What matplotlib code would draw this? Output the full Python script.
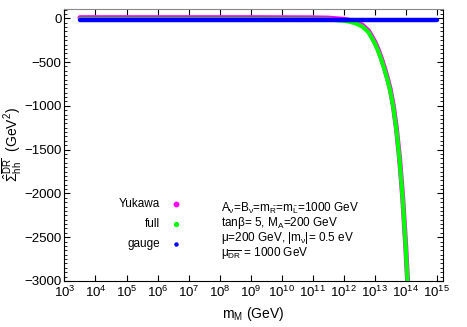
import matplotlib
matplotlib.use("Agg")
import matplotlib.pyplot as plt
import numpy as np
from matplotlib.ticker import MultipleLocator, FixedLocator

plt.rcParams['font.family'] = ['Liberation Sans', 'DejaVu Sans']
plt.rcParams['mathtext.fontset'] = 'custom'
plt.rcParams['mathtext.rm'] = 'Liberation Sans'
plt.rcParams['mathtext.it'] = 'Liberation Sans'
plt.rcParams['mathtext.bf'] = 'Liberation Sans:bold'
plt.rcParams['mathtext.default'] = 'regular'

# data: log10(m_M / GeV) and self-energy (GeV^2)
log_mM = [3.5, 5.0, 7.0, 9.0, 10.0, 11.0, 11.5, 12.0, 12.2, 12.4, 12.6, 12.8,
          13.0, 13.1, 13.2, 13.3, 13.4, 13.5, 13.6, 13.7, 13.8, 13.9, 14.0, 14.1]
full = [-9, -9, -9, -9, -10, -11, -14, -28, -40, -60, -95, -160,
        -285, -365, -460, -570, -690, -830, -1020, -1280, -1620, -2060, -2630, -3300]
yukawa = [7, 7, 7, 7, 6, 5, 2, -12, -24, -44, -79, -144,
          -269, -349, -444, -554, -674, -814, -1004, -1264, -1604, -2044, -2614, -3284]
log_mM_gauge = [3.5, 15.0]
gauge = [-16, -16]

series_labels = ["Yukawa", "full", "gauge"]
series_colors = ["#ff00ff", "#00ff00", "#0000ff"]

fig = plt.figure(figsize=(4.67, 3.27), dpi=100)
ax = fig.add_axes([0.138, 0.1407, 0.810, 0.8318])

mM = 10 ** np.array(log_mM)
ax.plot(mM, yukawa, color=series_colors[0], lw=3.6, solid_capstyle='round',
        solid_joinstyle='round', zorder=2)
ax.plot(mM, full, color=series_colors[1], lw=3.0, solid_capstyle='round',
        solid_joinstyle='round', zorder=3)
ax.plot(10 ** np.array(log_mM_gauge), gauge, color=series_colors[2], lw=3.2,
        solid_capstyle='round', zorder=4)

ax.set_xscale('log')
ax.set_xlim(1e3, 10 ** 15.19)
ax.set_ylim(-3000, 106)

xt = [10.0 ** k for k in range(3, 16)]
ax.xaxis.set_major_locator(FixedLocator(xt))
ax.xaxis.set_minor_locator(FixedLocator([]))
ax.set_xticklabels([r'$10^{%d}$' % k for k in range(3, 16)])
ax.yaxis.set_major_locator(MultipleLocator(500))
ax.yaxis.set_minor_locator(MultipleLocator(50))

ax.tick_params(axis='both', which='both', direction='in', top=True, right=True,
               labelsize=9.5)
ax.tick_params(axis='x', which='major', length=4, pad=3)
ax.tick_params(axis='y', which='major', length=4, pad=2)
ax.tick_params(axis='y', which='minor', length=2)
ax.spines['top'].set_color('#888888')

ax.set_xlabel(r'm$_{M}$ (GeV)', fontsize=10, labelpad=3)
ax.set_ylabel(r'$\hat{\Sigma}_{hh}^{\overline{DR}}$  (GeV$^2$)', fontsize=10, labelpad=0)

# legend (manual, gnuplot-like)
fig_h = 327.0
fig_w = 467.0
leg_y = [204, 224, 244]
leg_ms = [3.2, 2.8, 2.2]
for lab, col, yy, ms in zip(series_labels, series_colors, leg_y, leg_ms):
    fig.text(160 / fig_w, 1 - yy / fig_h, lab, ha='right', va='center', fontsize=8.5)
    fig.lines.append(plt.Line2D([176 / fig_w], [1 - yy / fig_h], marker='o', ms=ms,
                                color=col, transform=fig.transFigure, figure=fig))

notes = [r'A$_\nu$=B$_\nu$=m$_{\tilde{R}}$=m$_{\tilde{L}}$=1000 GeV',
         r'tan$\beta$= 5, M$_A$=200 GeV',
         r'$\mu$=200 GeV, |m$_\nu$|= 0.5 eV',
         r'$\mu_{\overline{DR}}$ = 1000 GeV']
note_y = [208, 223, 238, 253]
for t, yy in zip(notes, note_y):
    fig.text(221 / fig_w, 1 - yy / fig_h, t, ha='left', va='center', fontsize=8.5)

fig.savefig("out.png", dpi=100)
